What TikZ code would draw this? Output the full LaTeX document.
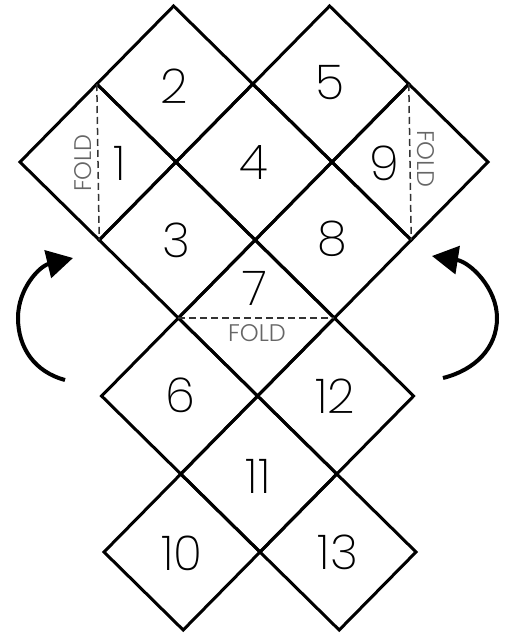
\documentclass[tikz,border=0pt]{standalone}
\usepackage{fontspec}
\newfontfamily\numfont{Poppins ExtraLight}
\newfontfamily\foldfont{Poppins Light}
\usetikzlibrary{arrows.meta}
\begin{document}
\begin{tikzpicture}[x=1pt,y=-1pt,
  cell/.style={draw=black,line width=3pt,line join=miter},
  foldline/.style={draw=black!80,line width=1.5pt,dash pattern=on 7pt off 4pt},
  num/.style={font=\numfont\fontsize{48}{48}\selectfont,inner sep=0pt},
  foldtxt/.style={font=\foldfont\fontsize{24}{24}\selectfont,text=black!60,inner sep=0pt},
  turn/.style={line width=4pt,-{Triangle[length=26pt,width=28pt]}}]
\useasboundingbox (0,0) rectangle (506,634);
\fill[white] (0,0) rectangle (506,634);
\foreach \i in {0,...,6}{\foreach \j in {0,...,8}{
  \coordinate (p-\i-\j) at ({20+78*\i+1.2*(\j-2)},{6+78*\j});}}
\foreach \ci/\cj in {2/1,4/1,1/2,3/2,5/2,2/3,4/3,3/4,2/5,4/5,3/6,2/7,4/7}{
  \pgfmathtruncatemacro{\il}{\ci-1}\pgfmathtruncatemacro{\ir}{\ci+1}
  \pgfmathtruncatemacro{\ju}{\cj-1}\pgfmathtruncatemacro{\jd}{\cj+1}
  \draw[cell] (p-\ci-\ju) -- (p-\ir-\cj) -- (p-\ci-\jd) -- (p-\il-\cj) -- cycle;}
\draw[foldline] (p-1-1) -- (p-1-3);
\draw[foldline] (p-5-1) -- (p-5-3);
\draw[foldline] (p-2-4) -- (p-4-4);
\node[num] (n1) at (120,163) {1};
\node[num] (n2) at (174,86) {2};
\node[num] (n3) at (176,240) {3};
\node[num] (n4) at (254,163) {4};
\node[num] (n5) at (330,83) {5};
\node[num] (n6) at (180,395) {6};
\node[num] (n7) at (255,288) {7};
\node[num] (n8) at (332,239) {8};
\node[num] (n9) at (384,163) {9};
\node[num] (n10) at (182,553) {10};
\node[num] (n11) at (258,476) {11};
\node[num] (n12) at (335,396) {12};
\node[num] (n13) at (338,552) {13};
\node[foldtxt,rotate=90] (f1) at (83,163) {FOLD};
\node[foldtxt,rotate=-90] (f9) at (426,159) {FOLD};
\node[foldtxt] (f7) at (257,333) {FOLD};
\coordinate (la0) at (65,380);
\coordinate (la1) at (18,318);
\coordinate (la2) at (73,258);
\draw[turn] (la0) .. controls (35,372) and (18,348) .. (la1) .. controls (18,288) and (40,266) .. (la2);
\coordinate (ra0) at (443,378);
\coordinate (ra1) at (497,318);
\coordinate (ra2) at (432,256);
\draw[turn] (ra0) .. controls (475,370) and (497,348) .. (ra1) .. controls (497,288) and (470,262) .. (ra2);
\end{tikzpicture}
\end{document}
